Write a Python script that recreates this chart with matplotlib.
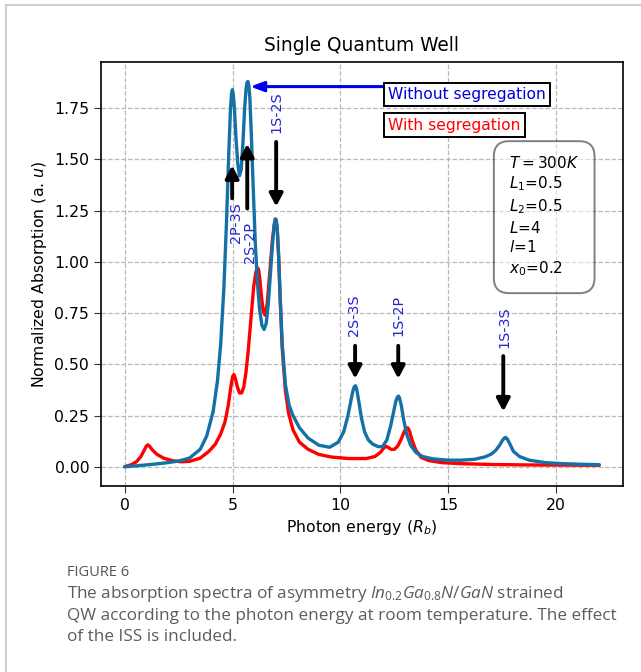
import matplotlib
matplotlib.use("Agg")
import matplotlib.pyplot as plt
from matplotlib.lines import Line2D

plt.rcParams["mathtext.fontset"] = "custom"
plt.rcParams["mathtext.rm"] = "Open Sans"
plt.rcParams["mathtext.it"] = "Open Sans:italic"

# Absorption without segregation (photon energy in R_b, normalized absorption)
energy_without = [0, 0.5, 1.0, 1.5, 2.0, 2.5, 3.0, 3.5, 3.8, 4.1, 4.3, 4.45, 4.6, 4.72, 4.82,
                  4.9, 4.95, 4.99, 5.03, 5.09, 5.16, 5.24, 5.32, 5.4, 5.48, 5.56, 5.62, 5.67,
                  5.71, 5.75, 5.8, 5.87, 5.95, 6.05, 6.15, 6.25, 6.36, 6.46, 6.56, 6.66, 6.76,
                  6.86, 6.93, 6.98, 7.02, 7.07, 7.13, 7.2, 7.3, 7.45, 7.62, 7.8, 8.1, 8.5, 9.0,
                  9.5, 9.9, 10.15, 10.35, 10.5, 10.59, 10.65, 10.7, 10.76, 10.85, 10.97, 11.12,
                  11.3, 11.5, 11.75, 11.95, 12.15, 12.33, 12.47, 12.57, 12.64, 12.69, 12.74,
                  12.82, 12.93, 13.07, 13.25, 13.5, 13.8, 14.3, 15.0, 15.6, 16.2, 16.7, 17.0,
                  17.2, 17.38, 17.52, 17.6, 17.66, 17.74, 17.86, 18.02, 18.3, 18.75, 19.5,
                  20.3, 21.2, 22.0]
absorption_without = [0, 0.004, 0.009, 0.014, 0.02, 0.028, 0.042, 0.085, 0.15, 0.27, 0.42, 0.6,
                      0.88, 1.2, 1.52, 1.74, 1.82, 1.84, 1.82, 1.74, 1.6, 1.48, 1.42, 1.45, 1.58,
                      1.75, 1.84, 1.875, 1.88, 1.865, 1.8, 1.62, 1.38, 1.1, 0.9, 0.77, 0.69,
                      0.67, 0.7, 0.8, 0.95, 1.1, 1.18, 1.21, 1.205, 1.16, 1.04, 0.84, 0.6, 0.4,
                      0.3, 0.25, 0.19, 0.14, 0.105, 0.095, 0.12, 0.17, 0.25, 0.33, 0.375, 0.392,
                      0.395, 0.375, 0.32, 0.24, 0.17, 0.13, 0.11, 0.098, 0.098, 0.13, 0.2, 0.27,
                      0.32, 0.34, 0.345, 0.335, 0.3, 0.23, 0.16, 0.105, 0.07, 0.05, 0.038, 0.032,
                      0.032, 0.036, 0.048, 0.062, 0.08, 0.105, 0.13, 0.14, 0.143, 0.135, 0.11,
                      0.075, 0.05, 0.032, 0.02, 0.015, 0.012, 0.01]

# Absorption with segregation
energy_with = [0, 0.3, 0.55, 0.75, 0.9, 1.0, 1.07, 1.15, 1.3, 1.5, 1.8, 2.2, 2.6, 3.0, 3.5, 3.9,
               4.2, 4.45, 4.65, 4.8, 4.92, 5.0, 5.06, 5.13, 5.22, 5.32, 5.42, 5.52, 5.62, 5.72,
               5.85, 5.98, 6.08, 6.15, 6.2, 6.26, 6.34, 6.42, 6.5, 6.6, 6.72, 6.84, 6.93, 6.98,
               7.02, 7.07, 7.13, 7.2, 7.3, 7.45, 7.6, 7.8, 8.1, 8.5, 9.0, 9.6, 10.4, 11.2, 11.6,
               11.85, 12.0, 12.1, 12.2, 12.35, 12.5, 12.65, 12.8, 12.95, 13.05, 13.12, 13.2,
               13.32, 13.5, 13.75, 14.1, 14.7, 15.6, 17.0, 18.5, 20.0, 22.0]
absorption_with = [0, 0.01, 0.025, 0.05, 0.08, 0.1, 0.107, 0.1, 0.08, 0.06, 0.042, 0.03, 0.024,
                   0.026, 0.042, 0.075, 0.11, 0.16, 0.22, 0.3, 0.39, 0.44, 0.45, 0.43, 0.39,
                   0.36, 0.36, 0.39, 0.46, 0.56, 0.72, 0.88, 0.95, 0.97, 0.965, 0.92, 0.83,
                   0.76, 0.74, 0.79, 0.94, 1.1, 1.18, 1.205, 1.205, 1.16, 1.04, 0.84, 0.58,
                   0.37, 0.26, 0.18, 0.12, 0.085, 0.06, 0.047, 0.04, 0.04, 0.05, 0.07, 0.09,
                   0.1, 0.095, 0.085, 0.085, 0.1, 0.13, 0.17, 0.188, 0.19, 0.175, 0.13, 0.08,
                   0.045, 0.03, 0.02, 0.015, 0.011, 0.009, 0.008, 0.007]

# Transition labels: name, arrow x, arrow tail y, arrow head y, label x, label y
transitions = ["2P-3S", "2S-2P", "1S-2S", "2S-3S", "1S-2P", "1S-3S"]
arrow_x = [4.98, 5.68, 7.02, 10.68, 12.68, 17.55]
arrow_tail = [1.31, 1.26, 1.585, 0.59, 0.59, 0.54]
arrow_head = [1.47, 1.575, 1.27, 0.43, 0.43, 0.27]
label_x = [5.17, 5.79, 7.02, 10.62, 12.68, 17.6]
label_y = [1.19, 1.095, 1.73, 0.74, 0.74, 0.68]

params_text = "$T=300K$\n$L_1$=0.5\n$L_2$=0.5\n$L$=4\n$l$=1\n$x_0$=0.2"

W, H = 641, 672
fig = plt.figure(figsize=(W / 100, H / 100), dpi=100)
fig.patch.set_facecolor("white")

# Page frame lines
fig.add_artist(Line2D([6 / W, 6 / W], [0, 1 - 5 / H], color="#cfcfcf", lw=1.5,
                      transform=fig.transFigure))
fig.add_artist(Line2D([6 / W, 1], [1 - 5 / H, 1 - 5 / H], color="#cfcfcf", lw=1.5,
                      transform=fig.transFigure))

ax = fig.add_axes([101 / W, (H - 486) / H, (623 - 101) / W, (486 - 62) / H])

ax.plot(energy_with, absorption_with, color="#ff0000", lw=2.4, solid_joinstyle="round",
        solid_capstyle="round", zorder=3)
ax.plot(energy_without, absorption_without, color="#1471a6", lw=2.4, solid_joinstyle="round",
        solid_capstyle="round", zorder=4)

ax.set_xlim(-1.1, 23.1)
ax.set_ylim(-0.094, 1.975)
ax.set_xticks([0, 5, 10, 15, 20])
ax.set_yticks([0, 0.25, 0.5, 0.75, 1.0, 1.25, 1.5, 1.75])
ax.set_yticklabels(["0.00", "0.25", "0.50", "0.75", "1.00", "1.25", "1.50", "1.75"])
ax.tick_params(labelsize=11.3, length=5, color="#333333")
ax.grid(True, linestyle="--", color="#b8b8b8", lw=0.9)
for s in ax.spines.values():
    s.set_linewidth(1.2)

ax.set_title("Single Quantum Well", fontsize=13.4, pad=8)
ax.set_xlabel("Photon energy ($R_b$)", fontsize=11.3, math_fontfamily="dejavusans")
ax.set_ylabel("Normalized Absorption (a. $u$)", fontsize=11.3, math_fontfamily="dejavusans")

# Transition arrows and labels
for name, xa, yt, yh, lx, ly in zip(transitions, arrow_x, arrow_tail, arrow_head, label_x, label_y):
    ax.annotate("", xy=(xa, yh), xytext=(xa, yt),
                arrowprops=dict(arrowstyle="-|>,head_width=0.4,head_length=0.75",
                                color="black", lw=2.8, shrinkA=0, shrinkB=0), zorder=6)
    ax.text(lx, ly, name, rotation=90, color="#2525cc", fontsize=10.3,
            ha="center", va="center", zorder=6)

# Legend-like boxes
ax.annotate("", xy=(5.82, 1.855), xytext=(12.0, 1.855),
            arrowprops=dict(arrowstyle="-|>,head_width=0.3,head_length=0.8",
                            color="#0000ee", lw=2.2, shrinkA=0, shrinkB=0), zorder=6)
ax.text(12.2, 1.816, "Without segregation", color="#0000dd", fontsize=11.2, ha="left",
        va="center", zorder=7,
        bbox=dict(boxstyle="square,pad=0.28", fc="white", ec="black", lw=1.4))
ax.text(12.2, 1.667, "With segregation", color="#ff0000", fontsize=11.2, ha="left",
        va="center", zorder=7,
        bbox=dict(boxstyle="square,pad=0.28", fc="white", ec="black", lw=1.4))

ax.text(17.82, 1.222, params_text, fontsize=11, ha="left", va="center", linespacing=1.28,
        math_fontfamily="dejavusans", zorder=7,
        bbox=dict(boxstyle="round,pad=1.0", facecolor="white", alpha=0.5, lw=1.4))

# Caption
fig.text(67 / W, 1 - 572 / H, "FIGURE 6", fontsize=10.5, color="#555555",
         family="Open Sans", va="center", ha="left")
caption_lines = [
    "The absorption spectra of asymmetry $In_{0.2}Ga_{0.8}N/GaN$ strained",
    "QW according to the photon energy at room temperature. The effect",
    "of the ISS is included.",
]
for i, line in enumerate(caption_lines):
    fig.text(67 / W, 1 - (594 + 21.5 * i) / H, line, fontsize=12.35, color="#5c5c5c",
             family="Open Sans", va="center", ha="left")

fig.savefig("out.png", dpi=100)
